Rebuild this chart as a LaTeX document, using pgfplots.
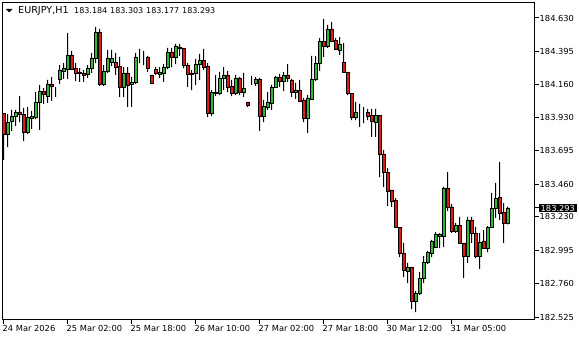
\documentclass[border=0pt]{standalone}
\usepackage{pgfplots}
\usepackage{pgfplotstable}
\pgfplotsset{compat=1.18}
\usepackage{fontspec}
\setmainfont{DejaVu Sans}
\definecolor{mtgreen}{RGB}{50,185,50}
\definecolor{mtred}{RGB}{225,25,25}
\newcommand\mtfont{\fontsize{8.3bp}{10bp}\selectfont}
\newcommand\hdfont{\fontsize{8bp}{10bp}\selectfont}

\pgfplotstableread{
i o h l c
0 183.961 183.961 183.631 183.814
1 183.814 183.954 183.722 183.898
2 183.905 183.983 183.835 183.940
3 183.940 183.983 183.870 183.969
4 183.969 184.081 183.898 183.954
5 183.954 183.997 183.764 183.828
6 183.828 184.004 183.814 183.933
7 183.926 183.976 183.849 183.940
8 183.933 184.109 183.919 184.039
9 184.039 184.159 183.842 184.116
10 184.116 184.137 184.025 184.095
11 184.081 184.194 184.032 184.166
12 184.166 184.215 184.046 184.152
13 184.102 184.145 184.074 184.102
14 184.201 184.299 184.166 184.264
15 184.257 184.313 184.201 184.278
16 184.271 184.524 184.201 184.370
17 184.370 184.398 184.264 184.271
18 184.278 184.313 184.187 184.243
19 184.250 184.278 184.180 184.243
20 184.243 184.264 184.180 184.229
21 184.236 184.299 184.208 184.278
22 184.278 184.384 184.243 184.349
23 184.349 184.567 184.313 184.532
24 184.532 184.553 184.152 184.166
25 184.166 184.299 184.152 184.257
26 184.257 184.405 184.243 184.349
27 184.320 184.405 184.292 184.349
28 184.320 184.384 184.229 184.285
29 184.292 184.356 184.074 184.145
30 184.145 184.285 184.074 184.243
31 184.243 184.285 184.004 184.159
32 184.166 184.215 184.004 184.180
33 184.180 184.384 184.166 184.356
34 184.356 184.412 184.313 184.356
35 184.356 184.398 184.299 184.356
36 184.356 184.363 184.250 184.278
37 184.229 184.229 184.173 184.173
38 184.271 184.285 184.229 184.243
39 184.236 184.285 184.208 184.250
40 184.243 184.306 184.180 184.285
41 184.285 184.419 184.271 184.391
42 184.391 184.419 184.285 184.356
43 184.356 184.447 184.306 184.433
44 184.426 184.447 184.363 184.419
45 184.419 184.419 184.278 184.299
46 184.299 184.313 184.145 184.236
47 184.243 184.264 184.123 184.236
48 184.243 184.342 184.159 184.306
49 184.306 184.377 184.194 184.334
50 184.334 184.412 184.264 184.285
51 184.292 184.313 183.933 183.961
52 183.961 184.123 183.940 184.109
53 184.102 184.229 184.081 184.109
54 184.102 184.250 184.088 184.208
55 184.208 184.285 184.123 184.229
56 184.229 184.257 184.109 184.145
57 184.152 184.194 184.081 184.102
58 184.102 184.229 184.088 184.208
59 184.208 184.215 184.088 184.109
60 184.109 184.243 184.074 184.137
61 184.039 184.039 184.004 184.018
62 184.173 184.222 184.159 184.173
63 184.173 184.215 184.152 184.201
64 184.201 184.208 183.835 183.940
65 183.940 184.053 183.898 184.011
66 184.004 184.109 183.983 184.039
67 184.032 184.159 183.983 184.145
68 184.145 184.222 184.145 184.215
69 184.215 184.236 184.145 184.187
70 184.187 184.250 184.116 184.229
71 184.229 184.306 184.180 184.208
72 184.194 184.201 184.074 184.109
73 184.109 184.173 184.060 184.123
74 184.123 184.194 184.039 184.046
75 184.053 184.067 183.898 183.926
76 183.926 184.088 183.821 184.067
77 184.060 184.363 184.053 184.201
78 184.201 184.363 184.187 184.313
79 184.313 184.489 184.257 184.468
80 184.468 184.623 184.356 184.433
81 184.433 184.581 184.419 184.553
82 184.553 184.602 184.461 184.468
83 184.475 184.489 184.405 184.412
84 184.405 184.496 184.370 184.447
85 184.320 184.454 184.250 184.250
86 184.250 184.250 184.088 184.102
87 184.102 184.102 183.912 183.933
88 183.933 184.039 183.912 183.969
89 183.969 184.025 183.863 183.969
90 183.969 184.004 183.891 183.969
91 183.969 183.990 183.912 183.940
92 183.947 183.990 183.793 183.905
93 183.898 183.990 183.793 183.947
94 183.947 183.947 183.511 183.673
95 183.673 183.701 183.441 183.546
96 183.546 183.574 183.307 183.413
97 183.420 183.420 183.300 183.342
98 183.349 183.363 183.159 183.159
99 183.159 183.159 182.948 182.976
100 182.976 183.047 182.807 182.857
101 182.850 182.906 182.765 182.878
102 182.878 182.878 182.582 182.638
103 182.638 182.709 182.561 182.695
104 182.695 182.843 182.681 182.800
105 182.800 182.955 182.765 182.913
106 182.913 182.990 182.899 182.983
107 182.976 183.068 182.948 183.061
108 183.018 183.124 183.011 183.110
109 183.096 183.117 183.011 183.110
110 183.096 183.441 183.018 183.434
111 183.434 183.546 183.272 183.300
112 183.300 183.321 183.117 183.131
113 183.131 183.187 183.117 183.173
114 183.173 183.230 183.047 183.047
115 183.047 183.047 182.800 182.955
116 182.955 183.230 182.906 183.209
117 183.209 183.230 183.047 183.117
118 183.117 183.159 182.941 182.955
119 182.955 183.117 182.864 183.054
120 183.061 183.138 183.011 183.011
121 183.011 183.166 182.983 183.159
122 183.159 183.399 183.159 183.293
123 183.293 183.469 183.223 183.363
124 183.370 183.617 183.209 183.258
125 183.265 183.328 183.047 183.187
126 183.184 183.303 183.177 183.293
}\candles

\begin{document}
\begin{tikzpicture}
\path[use as bounding box] (0,0) rectangle (580bp,340bp);
\begin{axis}[
  at={(2.5bp,20.5bp)}, anchor=south west,
  scale only axis, width=532bp, height=317bp,
  ybar stacked,
  xmin=-0.25, xmax=132.75,
  ymin=182.5083, ymax=184.739,
  enlargelimits=false,
  axis line style={line width=1bp},
  tick align=outside,
  major tick length=4bp,
  tick style={black, line width=1bp},
  xtick pos=bottom, ytick pos=right, yticklabel pos=right,
  xtick={0,16,32,48,64,80,96,112},
  xticklabels={24 Mar 2026,25 Mar 02:00,25 Mar 18:00,26 Mar 10:00,27 Mar 02:00,27 Mar 18:00,30 Mar 12:00,31 Mar 05:00},
  ytick={184.630,184.395,184.160,183.930,183.695,183.460,183.230,182.995,182.760,182.525},
  yticklabels={184.630,184.395,184.160,183.930,183.695,183.460,183.230,182.995,182.760,182.525},
  xticklabel style={font=\mtfont, anchor=north west, xshift=-2bp, yshift=-1bp, inner sep=1bp},
  yticklabel style={font=\mtfont, anchor=west, inner sep=1bp},
  extra y ticks={183.293},
  extra y tick labels={183.293},
  extra y tick style={yticklabel style={fill=black, text=white, inner xsep=2bp, inner ysep=1.2bp}},
  minor tick num=0,
]
\addplot[draw=none, fill=none, bar width=1bp] table[x=i, y=l] \candles;
\addplot[fill=black, draw=none, bar width=1bp] table[x=i, y expr={min(\thisrow{o},\thisrow{c})-\thisrow{l}}] \candles;
\addplot[fill=mtgreen, draw=black, line width=0.75bp, bar width=3bp] table[x=i, y expr={max(\thisrow{c}-\thisrow{o},0)}] \candles;
\addplot[fill=mtred, draw=black, line width=0.75bp, bar width=3bp] table[x=i, y expr={max(\thisrow{o}-\thisrow{c},0)}] \candles;
\addplot[fill=black, draw=none, bar width=1bp] table[x=i, y expr={\thisrow{h}-max(\thisrow{o},\thisrow{c})}] \candles;
\end{axis}
\fill (6bp,331bp) -- (12.5bp,331bp) -- (9.25bp,327.5bp) -- cycle;
\node[font=\fontsize{9.6bp}{11bp}\selectfont, anchor=base west, inner sep=0] at (18bp,326bp) {EURJPY,H1};
\node[font=\hdfont, anchor=base west, inner sep=0] at (74bp,326bp) {183.184};
\node[font=\hdfont, anchor=base west, inner sep=0] at (110bp,326bp) {183.303};
\node[font=\hdfont, anchor=base west, inner sep=0] at (146bp,326bp) {183.177};
\node[font=\hdfont, anchor=base west, inner sep=0] at (182bp,326bp) {183.293};
\end{tikzpicture}
\end{document}
